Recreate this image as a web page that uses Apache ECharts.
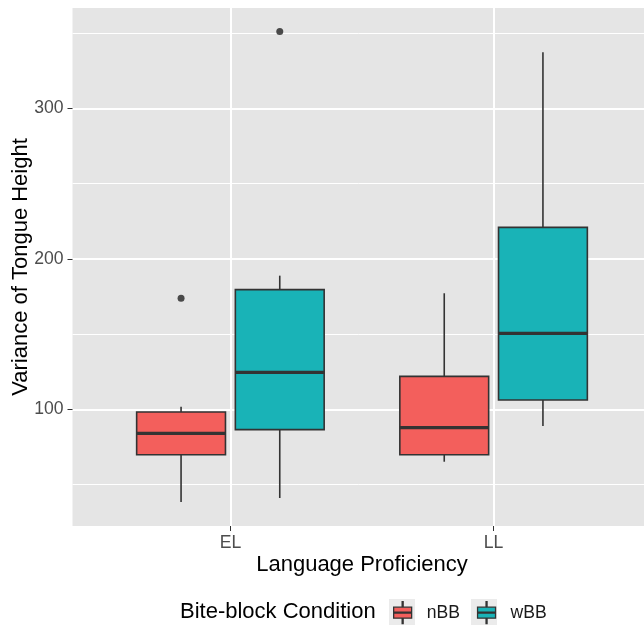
<!DOCTYPE html>
<html>
<head>
<meta charset="utf-8">
<script src="https://cdn.jsdelivr.net/npm/echarts@6/dist/echarts.min.js"></script>
<style>html,body{margin:0;padding:0;background:#fff;}#c{width:644px;height:625px;}</style>
</head>
<body>
<div id="c"></div>
<script>
// ---- data ----
const categories = ['EL', 'LL'];
const groups = ['nBB', 'wBB'];
// [min whisker, Q1, median, Q3, max whisker] per category
const nBBStats = [[38.4, 69.8, 84.0, 98.2, 101.7], [65.2, 69.8, 87.8, 121.9, 177.1]];
const wBBStats = [[41.1, 86.5, 124.6, 179.5, 188.8], [88.9, 106.2, 150.5, 220.9, 337.2]];
// outliers: [category index, value]
const nBBOutliers = [[0, 173.8]];
const wBBOutliers = [[0, 351.0]];
const yTicks = [100, 200, 300];
const yMinorTicks = [50, 150, 250, 350];

// ---- styling ----
const FONT = '"Liberation Sans", Arial, Helvetica, sans-serif';
const colors = { nBB: '#F35F5C', wBB: '#19B3B7' };
const DODGE = 0.1875, HALF = 0.16875;
const offsets = { nBB: -DODGE, wBB: DODGE };
const EDGE = '#333333';

function boxRender(offset, color) {
  return function (params, api) {
    const xc = api.value(0) + 1 + offset;
    const lo = api.value(1), q1 = api.value(2), md = api.value(3), q3 = api.value(4), hi = api.value(5);
    const tl = api.coord([xc - HALF, q3]);
    const br = api.coord([xc + HALF, q1]);
    const pHi = api.coord([xc, hi]), pQ3 = api.coord([xc, q3]);
    const pQ1 = api.coord([xc, q1]), pLo = api.coord([xc, lo]);
    const mL = api.coord([xc - HALF, md]), mR = api.coord([xc + HALF, md]);
    return {
      type: 'group',
      children: [
        { type: 'line', shape: { x1: pHi[0], y1: pHi[1], x2: pQ3[0], y2: pQ3[1] }, style: { stroke: EDGE, lineWidth: 1.6 } },
        { type: 'line', shape: { x1: pQ1[0], y1: pQ1[1], x2: pLo[0], y2: pLo[1] }, style: { stroke: EDGE, lineWidth: 1.6 } },
        { type: 'rect', shape: { x: tl[0], y: tl[1], width: br[0] - tl[0], height: br[1] - tl[1] }, style: { fill: color, stroke: EDGE, lineWidth: 1.6 } },
        { type: 'line', shape: { x1: mL[0], y1: mL[1], x2: mR[0], y2: mR[1] }, style: { stroke: EDGE, lineWidth: 3.2 } }
      ]
    };
  };
}

function boxData(stats) {
  return stats.map((s, i) => [i].concat(s));
}
function outlierData(list, offset) {
  return list.map(o => [o[0] + 1 + offset, o[1]]);
}

const iconPath = 'path://M0,5.5H18V16.5H0Z M8.5,0H9.5V5.5H8.5Z M8.5,16.5H9.5V22H8.5Z M0,10.5H18V11.5H0Z';

const chart = echarts.init(document.getElementById('c'), null, { renderer: 'canvas' });
chart.setOption({
  animation: false,
  backgroundColor: '#ffffff',
  textStyle: { fontFamily: FONT },
  grid: {
    left: 72.5, top: 8, width: 579, height: 518,
    containLabel: false, outerBoundsMode: 'none',
    show: true, backgroundColor: '#E5E5E5', borderWidth: 0
  },
  title: {
    text: 'Bite-block Condition',
    left: 180, top: 601,
    padding: 0,
    textStyle: { fontFamily: FONT, fontSize: 22, fontWeight: 'normal', color: '#000000' }
  },
  legend: {
    data: groups.map(g => ({ name: g, itemStyle: { color: colors[g], borderColor: EDGE, borderWidth: 1.3 } })),
    left: 393, top: 601,
    padding: 0,
    itemWidth: 18, itemHeight: 22,
    itemGap: 17,
    icon: iconPath,
    selectedMode: false,
    textStyle: { fontFamily: FONT, fontSize: 17.6, color: '#1a1a1a', padding: [0, 0, 0, 10] }
  },
  graphic: [
    { type: 'rect', left: 389, top: 599, shape: { width: 26, height: 26 }, style: { fill: '#EBEBEB' }, z: -1 },
    { type: 'rect', left: 471, top: 599, shape: { width: 26, height: 26 }, style: { fill: '#EBEBEB' }, z: -1 }
  ],
  xAxis: [{
    type: 'value', min: 0.4, max: 2.6,
    name: 'Language Proficiency', nameLocation: 'middle', nameGap: 28, nameMoveOverlap: false,
    nameTextStyle: { fontFamily: FONT, fontSize: 22, color: '#000000' },
    axisLine: { show: false },
    axisTick: { show: true, length: 5, lineStyle: { color: EDGE, width: 1 }, customValues: [1, 2] },
    axisLabel: {
      show: true, customValues: [1, 2], margin: 8,
      fontFamily: FONT, fontSize: 17.6, color: '#4D4D4D',
      formatter: v => categories[Math.round(v) - 1]
    },
    splitLine: { show: true, lineStyle: { color: '#ffffff', width: 2 } }
  }],
  yAxis: [{
    type: 'value', min: 22.5, max: 366.6,
    name: 'Variance of Tongue Height', nameLocation: 'middle', nameGap: 41, nameRotate: 90, nameMoveOverlap: false,
    nameTextStyle: { fontFamily: FONT, fontSize: 22, color: '#000000' },
    axisLine: { show: false },
    axisTick: { show: true, length: 5, lineStyle: { color: EDGE, width: 1 }, customValues: yTicks },
    axisLabel: { show: true, customValues: yTicks, margin: 9, fontFamily: FONT, fontSize: 17.6, color: '#4D4D4D' },
    splitLine: { show: true, lineStyle: { color: '#ffffff', width: 2 } }
  }, {
    type: 'value', min: 22.5, max: 366.6, position: 'left',
    axisLine: { show: false },
    axisTick: { show: false, customValues: yMinorTicks },
    axisLabel: { show: false, customValues: yMinorTicks },
    splitLine: { show: true, lineStyle: { color: '#ffffff', width: 1 } }
  }],
  series: [
    {
      name: 'nBB', type: 'custom', xAxisIndex: 0, yAxisIndex: 0,
      itemStyle: { color: colors.nBB },
      renderItem: boxRender(offsets.nBB, colors.nBB),
      encode: { x: 0, y: [1, 2, 3, 4, 5] },
      data: boxData(nBBStats), z: 3
    },
    {
      name: 'wBB', type: 'custom', xAxisIndex: 0, yAxisIndex: 0,
      itemStyle: { color: colors.wBB },
      renderItem: boxRender(offsets.wBB, colors.wBB),
      encode: { x: 0, y: [1, 2, 3, 4, 5] },
      data: boxData(wBBStats), z: 3
    },
    {
      name: 'nBB outliers', type: 'scatter', symbolSize: 7,
      itemStyle: { color: '#222222' }, data: outlierData(nBBOutliers, offsets.nBB), z: 4
    },
    {
      name: 'wBB outliers', type: 'scatter', symbolSize: 7,
      itemStyle: { color: '#222222' }, data: outlierData(wBBOutliers, offsets.wBB), z: 4
    }
  ]
});
</script>
</body>
</html>
